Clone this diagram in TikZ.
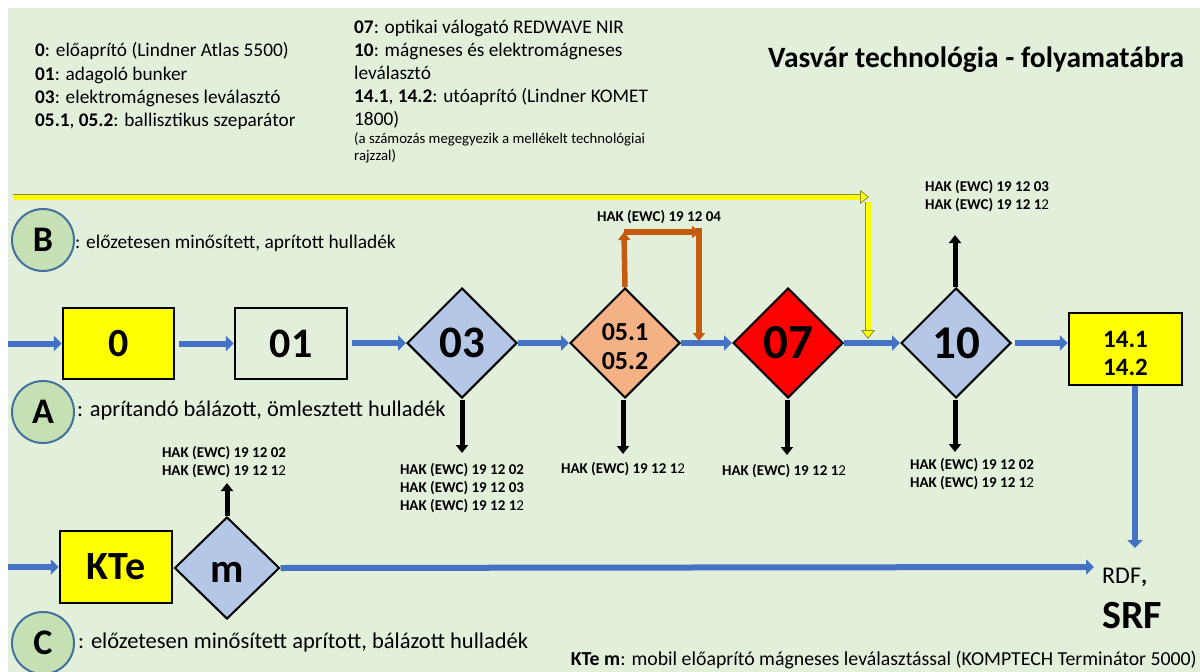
\documentclass[tikz,border=0pt]{standalone}
\usepackage{fontspec}
\setmainfont{Carlito}
\usetikzlibrary{shapes.geometric,arrows.meta}
\definecolor{bg}{HTML}{E2EFDA}
\definecolor{diablue}{HTML}{B4C7E7}
\definecolor{orangeD}{HTML}{F4B183}
\definecolor{flowblue}{HTML}{4472C4}
\definecolor{circfill}{HTML}{C5E0B4}
\definecolor{circline}{HTML}{41719C}
\definecolor{rust}{RGB}{197,90,17}
\definecolor{yel}{HTML}{FFFF00}
\definecolor{yelline}{RGB}{140,140,40}
\begin{document}
\begin{tikzpicture}[x=1pt,y=-1pt,
  box/.style={draw=black,line width=2.5pt,inner sep=0pt,font=\bfseries\fontsize{42}{42}\selectfont},
  dia/.style={diamond,draw=black,line width=2pt,inner sep=0pt,minimum width=110pt,minimum height=110pt,font=\bfseries\fontsize{45}{45}\selectfont},
  flow/.style={draw=flowblue,line width=6pt,-{Triangle[width=15pt,length=8pt]}},
  outarrow/.style={draw=black,line width=5pt,-{Triangle[width=12pt,length=8pt]}},
  rustarrow/.style={draw=rust,line width=5.5pt,-{Triangle[width=12pt,length=8pt]}},
  yarrow/.style={draw=yel,line width=5pt,-{Triangle[width=14pt,length=9pt,fill=yel,color=yelline,line width=0.8pt]},
     preaction={draw=yelline,line width=6.6pt,shorten >=8pt,-}},
  hak/.style={font=\bfseries\fontsize{15}{18}\selectfont,align=center,inner sep=0pt},
  legend/.style={anchor=base west,inner sep=0pt},
  legA/.style={legend,font=\fontsize{19.3}{23}\selectfont},
  legS/.style={legend,font=\fontsize{14.8}{17}\selectfont},
  circ/.style={circle,draw=circline,line width=2pt,fill=circfill,minimum size=62pt,inner sep=0pt,font=\bfseries\fontsize{36}{36}\selectfont},
]
\useasboundingbox (0,0) rectangle (1200,672);
\fill[white] (0,0) rectangle (1200,672);
\fill[bg] (8,8) rectangle (1200,672);

% legends
\node[legA] (l1a) at (35,56) {\textbf{0}: előaprító (Lindner Atlas 5500)};
\node[legA] (l1b) at (35,80) {\textbf{01}: adagoló bunker};
\node[legA] (l1c) at (35,103) {\textbf{03}: elektromágneses leválasztó};
\node[legA] (l1d) at (35,126) {\textbf{05.1}, \textbf{05.2}: ballisztikus szeparátor};
\node[legA] (l2a) at (354,33) {\textbf{07}: optikai válogató REDWAVE NIR};
\node[legA] (l2b) at (354,56) {\textbf{10}: mágneses és elektromágneses};
\node[legA] (l2c) at (354,79) {leválasztó};
\node[legA] (l2d) at (354,102) {\textbf{14.1}, \textbf{14.2}: utóaprító (Lindner KOMET};
\node[legA] (l2e) at (354,125) {1800)};
\node[legS] (l3a) at (354,143) {(a számozás megegyezik a mellékelt technológiai};
\node[legS] (l3b) at (354,160) {rajzzal)};
\node[legend,font=\bfseries\fontsize{29.5}{32}\selectfont] (title) at (768,67) {Vasvár technológia - folyamatábra};

% circles
\node[circ] (cB) at (43,240) {B};
\node[legend,font=\fontsize{19.4}{22}\selectfont] (tB) at (75,248) {: előzetesen minősített, aprított hulladék};
\node[circ] (cA) at (43,412) {A};
\node[legend,font=\fontsize{22.4}{24}\selectfont] (tA) at (77,416) {: aprítandó bálázott, ömlesztett hulladék};
\node[circ] (cC) at (43,643) {C};
\node[legend,font=\fontsize{22.5}{24}\selectfont] (tC) at (78,648) {: előzetesen minősített aprított, bálázott hulladék};

% main row
\node[box,fill=yel,minimum width=111pt,minimum height=71pt,font=\bfseries\fontsize{40}{40}\selectfont] (n0) at (118.5,343.5) {0};
\node[box,fill=bg,minimum width=112pt,minimum height=71pt] (n01) at (291,343.5) {01};
\node[dia,fill=diablue] (n03) at (462,343) {03};
\node[dia,fill=orangeD,font=\bfseries\fontsize{26}{29}\selectfont,align=center] (n05) at (625,343) {\rule{0pt}{24pt}05.1\\05.2};
\node[dia,fill=red,font=\bfseries\fontsize{49}{49}\selectfont] (n07) at (788,343) {07};
\node[dia,fill=diablue,font=\bfseries\fontsize{47}{47}\selectfont] (n10) at (956,343) {10};
\node[box,fill=yel,minimum width=113pt,minimum height=72pt,font=\bfseries\fontsize{25}{28}\selectfont,align=center] (n14) at (1125.5,349) {\rule{0pt}{26pt}14.1\\14.2};

\coordinate (inA) at (8,343.5);
\draw[flow] (inA) -- (inA -| n0.west);
\draw[flow,shorten <=4pt] (n0.east) -- (n01.west);
\draw[flow,shorten <=4pt] (n01.east |- n03.west) -- (n03.west);
\draw[flow] (n03.east) -- (n05.west);
\draw[flow] (n05.east) -- (n07.west);
\draw[flow] (n07.east) -- (n10.west);
\draw[flow,shorten <=3pt] (n10.east) -- (n10.east -| n14.west);

% orange bypass
\coordinate (o1) at (624,232);
\coordinate (o2) at (700,232);
\coordinate (o2b) at (699,228);
\coordinate (o3) at (699,341);
\draw[rustarrow] (n05.north) -- (o1);
\draw[rustarrow] (o1) -- (o2);
\draw[rustarrow] (o2b) -- (o3);
\node[hak] (h04) at (659,217) {HAK (EWC) 19 12 04};

% yellow B line
\coordinate (y0) at (13,197);
\coordinate (y1) at (869,197);
\coordinate (y2) at (868,202);
\coordinate (y3) at (868,339);
\draw[yarrow] (y0) -- (y1);
\draw[yarrow] (y2) -- (y3);

% outputs
\coordinate (d03) at (462,453);
\coordinate (d05) at (623,454);
\coordinate (d07) at (787,455);
\coordinate (d10) at (955,452);
\coordinate (u10) at (955,235);
\draw[outarrow,shorten <=1pt] (n03.south) -- (d03);
\draw[outarrow,shorten <=1pt] (n05.south -| d05) -- (d05);
\draw[outarrow,shorten <=1pt] (n07.south -| d07) -- (d07);
\draw[outarrow,shorten <=1pt] (n10.south -| d10) -- (d10);
\draw[outarrow] (n10.north -| u10) -- (u10);

\node[hak] (h03) at (462,488) {HAK (EWC) 19 12 02\\HAK (EWC) 19 12 03\\HAK (EWC) 19 12 1\textmd{2}};
\node[hak] (h05) at (623,469) {HAK (EWC) 19 12 1\textmd{2}};
\node[hak] (h07) at (784,471) {HAK (EWC) 19 12 1\textmd{2}};
\node[hak] (h10) at (972,474) {HAK (EWC) 19 12 02\\HAK (EWC) 19 12 1\textmd{2}};
\node[hak] (h10u) at (987,196) {HAK (EWC) 19 12 03\\HAK (EWC) 19 12 1\textmd{2}};

% 14 -> RDF
\coordinate (d14) at (1135,548);
\draw[flow] (n14.south -| d14) -- (d14);

% bottom row
\node[box,fill=yel,minimum width=112pt,minimum height=72pt,font=\bfseries\fontsize{40}{40}\selectfont] (kte) at (116,567) {KTe};
\node[dia,fill=diablue,minimum width=105pt,minimum height=102pt,font=\bfseries\fontsize{41}{41}\selectfont] (m) at (227,568) {\raisebox{0pt}[29pt][0pt]{m}};
\coordinate (inC) at (8,567);
\coordinate (rdfend) at (1094,567);
\coordinate (um) at (227,483);
\draw[flow] (inC) -- (inC -| kte.west);
\draw[flow] (m.east) -- (rdfend);
\draw[outarrow] (m.north) -- (um);
\node[hak] (hm) at (224,462) {HAK (EWC) 19 12 02\\HAK (EWC) 19 12 1\textmd{2}};

\node[legend,font=\fontsize{24}{26}\selectfont] (rdf) at (1102,583) {RDF\textbf{,}};
\node[legend,font=\bfseries\fontsize{40}{40}\selectfont] (srf) at (1102,628) {SRF};
\node[legend,font=\fontsize{19.8}{22}\selectfont,anchor=base east] (note) at (1197,665)
 {\textbf{KTe m}: mobil előaprító mágneses leválasztással (KOMPTECH Terminátor 5000)};
\end{tikzpicture}
\end{document}
